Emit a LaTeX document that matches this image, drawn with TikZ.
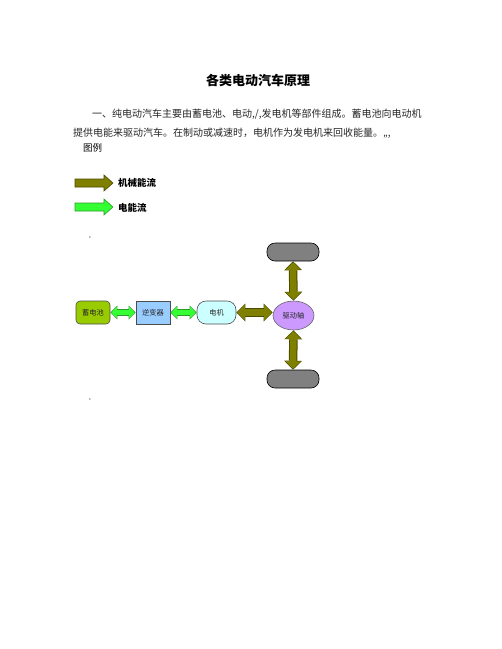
\documentclass[tikz,border=0pt]{standalone}
\usepackage{fontspec}
\setmainfont{Noto Sans CJK SC}
\usetikzlibrary{arrows.meta,shapes.geometric}
\definecolor{eleccol}{HTML}{33FF33}
\definecolor{elecedge}{HTML}{2E9A2E}
\definecolor{mechcol}{HTML}{808000}
\definecolor{mechedge}{HTML}{4A4A00}
\definecolor{batcol}{HTML}{99CC00}
\definecolor{invcol}{HTML}{99CCFF}
\definecolor{motcol}{HTML}{CCFFFF}
\definecolor{axlecol}{HTML}{CC99FF}
\definecolor{wheelcol}{HTML}{808080}
\tikzset{
  lbl/.style={font=\fontsize{7.2}{8}\selectfont, text=black!85, inner sep=0pt},
  box/.style={draw=black!70, line width=0.6pt, minimum height=23pt, lbl},
  elecout/.style={line width=6.5pt, draw=elecedge,
     {Triangle[length=7pt,width=14pt,line width=0pt]}-{Triangle[length=7pt,width=14pt,line width=0pt]}},
  elecin/.style={line width=4.5pt, draw=eleccol, shorten <=1pt, shorten >=1pt,
     {Triangle[length=5.5pt,width=11.5pt,line width=0pt]}-{Triangle[length=5.5pt,width=11.5pt,line width=0pt]}},
  mechout/.style={line width=8.5pt, draw=mechedge,
     {Triangle[length=9pt,width=18pt,line width=0pt]}-{Triangle[length=9pt,width=18pt,line width=0pt]}},
  mechin/.style={line width=6.5pt, draw=mechcol, shorten <=1pt, shorten >=1pt,
     {Triangle[length=7.5pt,width=15.5pt,line width=0pt]}-{Triangle[length=7.5pt,width=15.5pt,line width=0pt]}},
  body/.style={font=\fontsize{10}{11}\selectfont, text=black!85, inner sep=0pt, anchor=west},
}
\begin{document}
\begin{tikzpicture}[x=1pt,y=-1pt]
\useasboundingbox (0,0) rectangle (502,649);
% title and paragraph
\node[font=\fontsize{13}{15}\selectfont\bfseries, inner sep=0pt] (title) at (258,80) {各类电动汽车原理};
\node[body] (line1) at (92,114) {一、纯电动汽车主要由蓄电池、电动,/,发电机等部件组成。蓄电池向电动机};
\node[body] (line2) at (73,133) {提供电能来驱动汽车。在制动或减速时，电机作为发电机来回收能量。,,,};
\node[font=\fontsize{9.5}{11}\selectfont, inner sep=0pt, anchor=west] (legend) at (83,148) {图例};
% legend arrows
\path[fill=mechcol, draw=mechedge, line width=0.6pt]
  (75,179) -- (104,179) -- (104,175) -- (113,183) -- (104,191) -- (104,187) -- (75,187) -- cycle;
\node[font=\fontsize{9.5}{11}\selectfont\bfseries, inner sep=0pt, anchor=west] (mechlbl) at (118,183) {机械能流};
\path[fill=eleccol, draw=elecedge, line width=0.6pt]
  (75,203) -- (104,203) -- (104,199) -- (113,207) -- (104,215) -- (104,211) -- (75,211) -- cycle;
\node[font=\fontsize{9.5}{11}\selectfont\bfseries, inner sep=0pt, anchor=west] (eleclbl) at (118,208) {电能流};
\node[font=\fontsize{6}{7}\selectfont, inner sep=0pt] (c1) at (90,238) {,};
\node[font=\fontsize{6}{7}\selectfont, inner sep=0pt] (c2) at (90,400) {,};
% diagram nodes
\node[box, fill=batcol, rounded corners=4pt, minimum width=34pt] (bat) at (93,312.5) {蓄电池};
\node[box, fill=invcol, minimum width=34pt] (inv) at (153,312.5) {逆变器};
\node[box, fill=motcol, rounded corners=9pt, minimum width=39pt] (mot) at (216.5,312.5) {电机};
\node[lbl, ellipse, draw=black!60, line width=0.6pt, fill=axlecol, minimum width=41pt, minimum height=29pt] (axle) at (293.5,315.5) {驱动轴};
\node[draw=black, line width=0.6pt, fill=wheelcol, rounded corners=8pt, minimum width=52pt, minimum height=18pt, inner sep=0pt] (wtop) at (293,252) {};
\node[draw=black, line width=0.6pt, fill=wheelcol, rounded corners=8pt, minimum width=52pt, minimum height=18pt, inner sep=0pt] (wbot) at (293,379) {};
% connectors
\draw[elecout] (bat.east) -- (inv.west);
\draw[elecin] (bat.east) -- (inv.west);
\draw[elecout] (inv.east) -- (mot.west);
\draw[elecin] (inv.east) -- (mot.west);
\draw[mechout] (mot.east) -- (mot.east -| axle.west);
\draw[mechin] (mot.east) -- (mot.east -| axle.west);
\draw[mechout] (wtop.south) -- (axle.north);
\draw[mechin] (wtop.south) -- (axle.north);
\draw[mechout] (axle.south) -- (wbot.north);
\draw[mechin] (axle.south) -- (wbot.north);
\end{tikzpicture}
\end{document}
